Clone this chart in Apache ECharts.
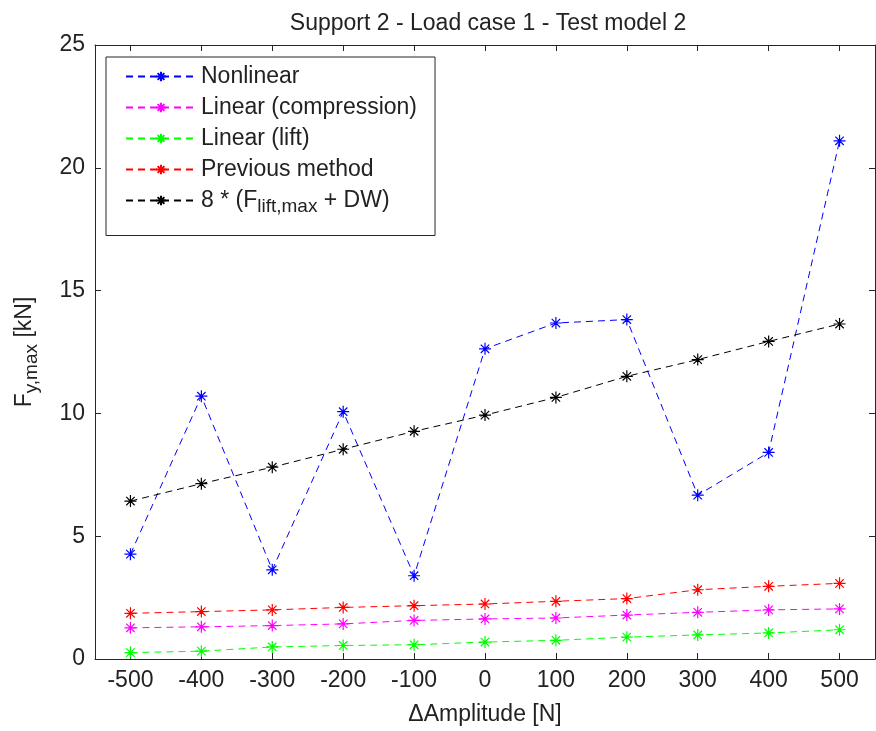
<!DOCTYPE html>
<html>
<head>
    <meta charset="utf-8"/>
    <title>Support 2</title>
    <script src="https://cdn.jsdelivr.net/npm/echarts@6/dist/echarts.min.js"></script>
    <style>
        html, body { margin: 0; padding: 0; background: #fff; }
    </style>
</head>
<body>
<div id="main" style="width: 876px; height: 731px;"></div>
<script type="text/javascript">
    // values
    var amplitudes = [-500, -400, -300, -200, -100, 0, 100, 200, 300, 400, 500];
    var nonlinear = [4.27, 10.7, 3.63, 10.07, 3.39, 12.63, 13.68, 13.82, 6.67, 8.41, 21.1];
    var linearCompression = [1.27, 1.31, 1.36, 1.43, 1.57, 1.63, 1.67, 1.79, 1.90, 2.00, 2.04];
    var linearLift = [0.26, 0.32, 0.49, 0.55, 0.58, 0.69, 0.76, 0.89, 0.98, 1.06, 1.19];
    var previousMethod = [1.86, 1.93, 2.00, 2.10, 2.17, 2.24, 2.35, 2.46, 2.82, 2.96, 3.08];
    var eightTimes = [6.43, 7.14, 7.81, 8.54, 9.27, 9.93, 10.65, 11.51, 12.19, 12.93, 13.64];

    var seriesNames = ['Nonlinear', 'Linear (compression)', 'Linear (lift)', 'Previous method', '8 * (Flift,max + DW)'];
    var seriesColors = ['#0000ff', '#ff00ff', '#00ff00', '#ff0000', '#000000'];
    var seriesValues = [nonlinear, linearCompression, linearLift, previousMethod, eightTimes];

    var xTicks = [-500, -400, -300, -200, -100, 0, 100, 200, 300, 400, 500];

    var FONT = 'Liberation Sans, Arial, sans-serif';
    var FS = 23;
    var SUB = 19;
    var FRAME = '#262626';

    // asterisk marker like matlab '*'
    var star = 'path://M0,5L10,5M5,0L5,10M1.5,1.5L8.5,8.5M8.5,1.5L1.5,8.5M4.4,4.4L5.6,4.4L5.6,5.6L4.4,5.6Z';

    var chart = echarts.init(document.getElementById('main'));

    var series = seriesNames.map(function (name, i) {
        return {
            name: name,
            type: 'line',
            xAxisIndex: 0,
            yAxisIndex: 0,
            data: amplitudes.map(function (a, j) { return [a, seriesValues[i][j]]; }),
            symbol: star,
            symbolSize: 12,
            showAllSymbol: true,
            lineStyle: { color: seriesColors[i], width: 1, type: [7, 5] },
            itemStyle: { color: seriesColors[i], borderColor: seriesColors[i], borderWidth: 1.2 },
            emphasis: { disabled: true },
            animation: false
        };
    });

    function xAxisBase(pos, showLabel) {
        return {
            type: 'value',
            position: pos,
            min: -550,
            max: 550,
            splitLine: { show: false },
            axisLine: { show: true, onZero: false, lineStyle: { color: FRAME, width: 1 } },
            axisTick: { show: true, inside: true, length: 6, customValues: xTicks, lineStyle: { color: FRAME } },
            axisLabel: { show: showLabel, customValues: xTicks, color: '#222', fontFamily: FONT, fontSize: FS, margin: 10 }
        };
    }

    function yAxisBase(pos, showLabel) {
        return {
            type: 'value',
            position: pos,
            min: 0,
            max: 25,
            interval: 5,
            splitLine: { show: false },
            axisLine: { show: true, onZero: false, lineStyle: { color: FRAME, width: 1 } },
            axisTick: { show: true, inside: true, length: 6, lineStyle: { color: FRAME } },
            axisLabel: { show: showLabel, color: '#222', fontFamily: FONT, fontSize: FS, margin: 10 }
        };
    }

    var richText = {
        n: { color: '#222', fontFamily: FONT, fontSize: FS },
        s: { color: '#222', fontFamily: FONT, fontSize: SUB, padding: [13, 0, 0, 0] }
    };

    var xBottom = xAxisBase('bottom', true);
    xBottom.name = 'ΔAmplitude [N]';
    xBottom.nameLocation = 'middle';
    xBottom.nameGap = 44;
    xBottom.nameTextStyle = { color: '#222', fontFamily: FONT, fontSize: FS };

    var yLeft = yAxisBase('left', true);
    yLeft.name = '{n|F}{s|y,max}{n| [kN]}';
    yLeft.nameLocation = 'middle';
    yLeft.nameGap = 54;
    yLeft.nameTextStyle = { color: '#222', fontFamily: FONT, fontSize: FS, rich: richText };

    var option = {
        backgroundColor: '#ffffff',
        animation: false,
        title: {
            text: 'Support 2 - Load case 1 - Test model 2',
            left: 483,
            textAlign: 'center',
            top: 7,
            textStyle: { color: '#222', fontFamily: FONT, fontSize: FS, fontWeight: 'normal' }
        },
        grid: { left: 95, top: 45, right: 1, bottom: 69, containLabel: false },
        legend: {
            orient: 'vertical',
            left: 106,
            top: 57,
            padding: [8, 18, 19, 19],
            itemGap: 8,
            itemWidth: 70,
            itemHeight: 12,
            borderColor: FRAME,
            borderWidth: 1,
            backgroundColor: '#fff',
            data: seriesNames,
            formatter: function (name) {
                if (name === seriesNames[4]) {
                    return '{n|8 * (F}{s|lift,max}{n| + DW)}';
                }
                return '{n|' + name + '}';
            },
            textStyle: { color: '#222', fontFamily: FONT, fontSize: FS, rich: richText }
        },
        xAxis: [xBottom, xAxisBase('top', false)],
        yAxis: [yLeft, yAxisBase('right', false)],
        series: series
    };

    chart.setOption(option);
</script>
</body>
</html>
